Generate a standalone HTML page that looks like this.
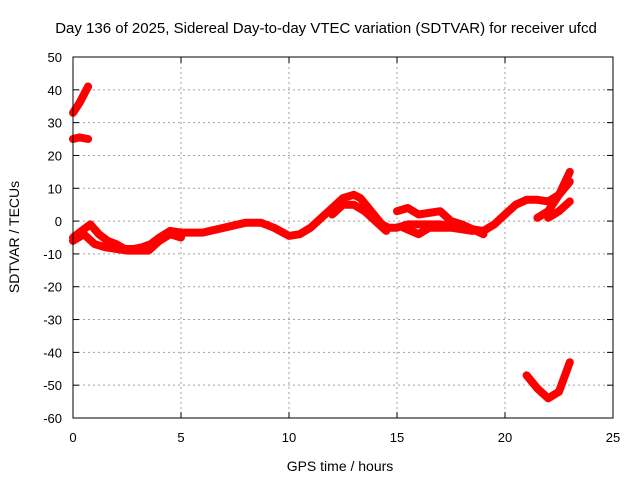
<!DOCTYPE html>
<html><head><meta charset="utf-8"><style>
body{margin:0;background:#fff;}
svg{display:block;font-family:"Liberation Sans",sans-serif;}
</style></head><body>
<svg id="c" width="640" height="480">
<rect width="640" height="480" fill="#fff"/>
<text x="326" y="33" text-anchor="middle" font-size="15">Day 136 of 2025, Sidereal Day-to-day VTEC variation (SDTVAR) for receiver ufcd</text>
<text transform="translate(19,237) rotate(-90)" text-anchor="middle" font-size="14">SDTVAR / TECUs</text>
<text x="340" y="471" text-anchor="middle" font-size="14">GPS time / hours</text>
<g id="grid"></g><g id="marks"></g><g id="axes"></g>
</svg>
<script>
const xTicks=[0,5,10,15,20,25];
const yTicks=[50,40,30,20,10,0,-10,-20,-30,-40,-50,-60];
const track1T=[0,0.4,0.8,1.2,1.6,2.0,2.4,2.8,3.2,3.6,4.0,4.5,5,6,7,8,8.7,9.3,10,10.5,11,11.5,12,12.5,13,13.3,13.8,14.3,14.6,15,15.5,16,17,18,19,19.5,20,20.5,21,21.5,22,22.5,23];
const track1V=[-5,-3,-1,-4,-6,-7,-8.5,-8.5,-8,-7,-5,-3,-3.5,-3.5,-2,-0.5,-0.5,-2,-4.5,-4,-2,1,4,7,8,7,3,-1,-2,-2,-1,-1,-1,-2,-3,-1,2,5,6.5,6.5,6,8,12];
const track2T=[0,0.5,1,1.5,2.5,3.5,4,4.5,5];
const track2V=[-6,-4,-7,-8,-9,-9,-6,-4,-5];
const track3T=[12,12.5,13,13.5,14,14.5];
const track3V=[2,5,5,3,0,-3];
const track4T=[15,15.5,16,17,17.5,18,19];
const track4V=[3,4,2,3,0,-1,-4];
const track5T=[15.3,16,16.5,17.5,18.5];
const track5V=[-2,-4,-2,-2,-3];
const track6T=[21.5,22,22.5,23];
const track6V=[1,3,8,15];
const track7T=[22,22.5,23];
const track7V=[1,3,6];
const track8T=[0,0.3,0.7];
const track8V=[33,36,41];
const track9T=[0,0.3,0.7];
const track9V=[25,25.5,25];
const track10T=[21,21.5,22,22.5,23];
const track10V=[-47,-51,-54,-52,-43];
const L=73,R=613,T=57,B=418;
const sx=t=>L+(t-0)/25*(R-L);
const sy=v=>T+(50-v)/110*(B-T);
const NS="http://www.w3.org/2000/svg";
const grid=document.getElementById('grid'),marks=document.getElementById('marks'),axes=document.getElementById('axes');
function mk(tag,attrs,parent){const e=document.createElementNS(NS,tag);for(const k in attrs)e.setAttribute(k,attrs[k]);parent.appendChild(e);return e;}
xTicks.forEach(t=>{
  const x=sx(t);
  if(t>0&&t<25){const g=mk('line',{x1:x,x2:x,y1:T,y2:B,stroke:'#a0a0a0','stroke-dasharray':'2,3'},grid);
  
  }
  const lb=mk('text',{x:x,y:442,'text-anchor':'middle','font-size':'13'},axes);lb.textContent=t;
  
  
  mk('line',{x1:x,x2:x,y1:B,y2:B-6,stroke:'#000'},axes);mk('line',{x1:x,x2:x,y1:T,y2:T+6,stroke:'#000'},axes);
});
yTicks.forEach(v=>{
  const y=sy(v);
  if(v<50&&v>-60){const g=mk('line',{x1:L,x2:R,y1:y,y2:y,stroke:'#a0a0a0','stroke-dasharray':'2,3'},grid);
  
  }
  const lb=mk('text',{x:62,y:y+5,'text-anchor':'end','font-size':'13'},axes);lb.textContent=v;
  
  
  mk('line',{x1:L,x2:L+6,y1:y,y2:y,stroke:'#000'},axes);mk('line',{x1:R,x2:R-6,y1:y,y2:y,stroke:'#000'},axes);
});
const fr=mk('rect',{x:L,y:T,width:R-L,height:B-T,fill:'none',stroke:'#000'},axes);


const tracks=[[track1T,track1V],[track2T,track2V],[track3T,track3V],[track4T,track4V],[track5T,track5V],[track6T,track6V],[track7T,track7V],[track8T,track8V],[track9T,track9V],[track10T,track10V]];
tracks.forEach((tr,i)=>{
  const pts=tr[0].map((t,j)=>sx(t).toFixed(1)+','+sy(tr[1][j]).toFixed(1)).join(' ');
  const p=mk('polyline',{points:pts,fill:'none',stroke:'#ff0000','stroke-width':'8','stroke-linejoin':'round','stroke-linecap':'round'},marks);
  
  
});
</script>
</body></html>
